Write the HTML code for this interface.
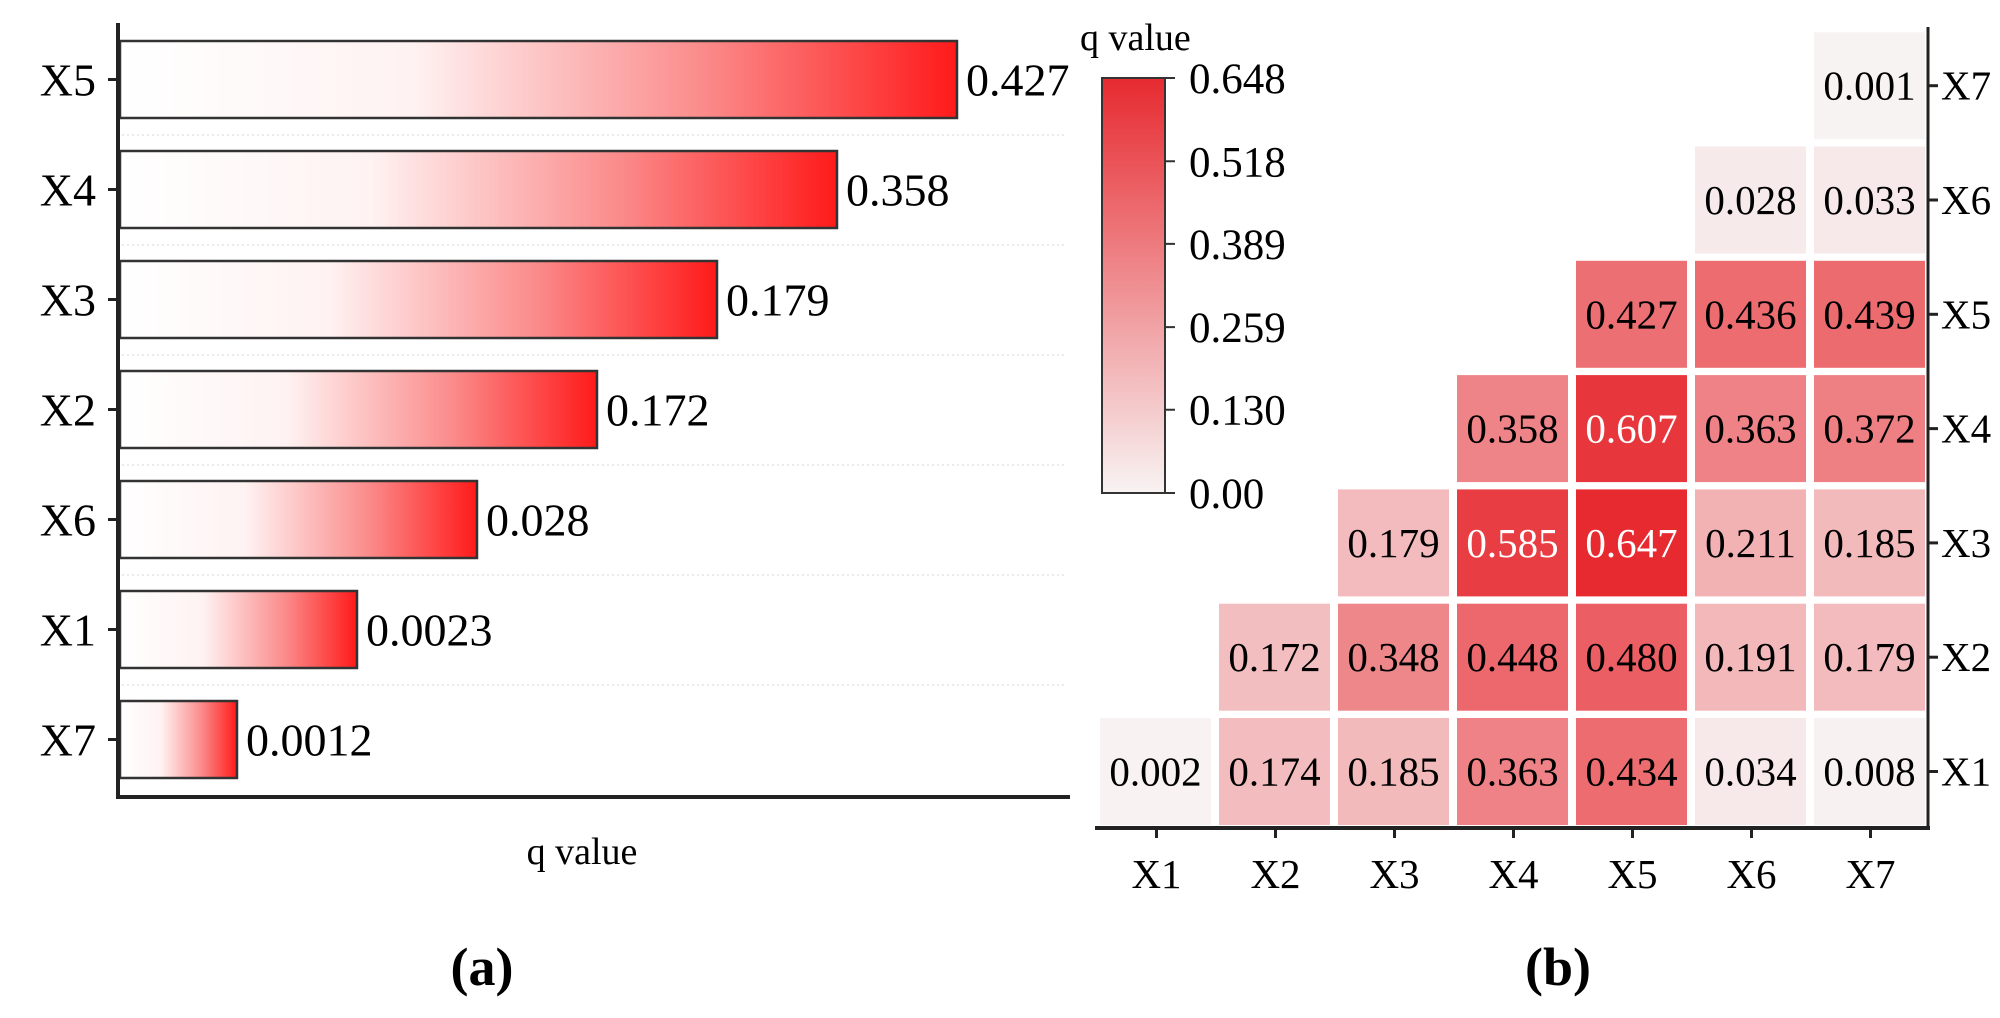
<!DOCTYPE html>
<html><head><meta charset="utf-8"><style>
html,body{margin:0;padding:0;background:#fff;}
svg{display:block;font-family:"Liberation Serif",serif;}
</style></head><body>
<svg id="chart" width="2000" height="1018" viewBox="0 0 2000 1018" xmlns="http://www.w3.org/2000/svg">
<defs>
<linearGradient id="barGrad" x1="0" x2="1" y1="0" y2="0">
<stop offset="0" stop-color="#ffffff"/><stop offset="0.35" stop-color="#fff2f2"/><stop offset="0.7" stop-color="#fb8a8a"/><stop offset="1" stop-color="#ff1a1a"/>
</linearGradient>
<linearGradient id="cbGrad" x1="0" x2="0" y1="1" y2="0">
<stop offset="0" stop-color="#f8f3f3"/><stop offset="1" stop-color="#e62a30"/>
</linearGradient>
</defs>
<g id="panelA"></g>
<g id="panelB"></g>
<text x="482" y="985" text-anchor="middle" font-size="54" font-weight="bold">(a)</text>
<text x="1558" y="985" text-anchor="middle" font-size="54" font-weight="bold">(b)</text>
</svg>
<script>
const barCategories = ["X5","X4","X3","X2","X6","X1","X7"];
const barValues = [0.427,0.358,0.179,0.172,0.028,0.0023,0.0012];
const barLabels = ["0.427","0.358","0.179","0.172","0.028","0.0023","0.0012"];

const heatCats = ["X1","X2","X3","X4","X5","X6","X7"];
const heatRowX1 = [0.002,0.174,0.185,0.363,0.434,0.034,0.008];
const heatRowX2 = [null,0.172,0.348,0.448,0.480,0.191,0.179];
const heatRowX3 = [null,null,0.179,0.585,0.647,0.211,0.185];
const heatRowX4 = [null,null,null,0.358,0.607,0.363,0.372];
const heatRowX5 = [null,null,null,null,0.427,0.436,0.439];
const heatRowX6 = [null,null,null,null,null,0.028,0.033];
const heatRowX7 = [null,null,null,null,null,null,0.001];
const colorbarTicks = ["0.00","0.130","0.259","0.389","0.518","0.648"];
const colorMax = 0.648;

const NS="http://www.w3.org/2000/svg";
function mk(tag,attrs,parent,text){const e=document.createElementNS(NS,tag);for(const k in attrs)e.setAttribute(k,attrs[k]);if(text!==undefined)e.textContent=text;parent.appendChild(e);return e;}

const A=document.getElementById('panelA');
const axX=118, axTop=23, axBot=797, axRight=1070;
const rowTop=41, rowPitch=110, barH=77;
const yPos=i=>rowTop+i*rowPitch;
const sorted=[...barValues].sort((a,b)=>a-b);
const xLen=v=>117+sorted.indexOf(v)*120;
barCategories.forEach((c,i)=>{
  const y=yPos(i), w=xLen(barValues[i]);
  if(i>0){const l=mk('line',{x1:122,x2:1065,y1:y-16,y2:y-16,stroke:'#ddd','stroke-width':1.2,'stroke-dasharray':'2,3'},A);
    
    }
  const r=mk('rect',{x:120,y:y,width:w,height:barH,fill:'url(#barGrad)',stroke:'#333','stroke-width':2.5},A);
  
  
  const t=mk('text',{x:120+w+9,y:y+barH/2+16,'font-size':46},A,barLabels[i]);
  
  
  const tk=mk('line',{x1:axX-10,x2:axX,y1:y+barH/2,y2:y+barH/2,stroke:'#222','stroke-width':3},A);
  
  
  const yl=mk('text',{x:axX-22,y:y+barH/2+16,'font-size':46,'text-anchor':'end'},A,c);
  
  
});
let e=mk('line',{x1:axX,x2:axX,y1:axTop,y2:axBot+2,stroke:'#222','stroke-width':4},A);


e=mk('line',{x1:axX-2,x2:axRight,y1:axBot,y2:axBot,stroke:'#222','stroke-width':4},A);


e=mk('text',{x:582,y:864,'font-size':38,'text-anchor':'middle'},A,'q value');



const B=document.getElementById('panelB');
const rows=[heatRowX1,heatRowX2,heatRowX3,heatRowX4,heatRowX5,heatRowX6,heatRowX7];
const cellX0=1100, pitchX=119, cellW=111, bottomY=825, pitchY=114.3, cellH=107;
const colX=j=>cellX0+j*pitchX;
const rowY=i=>bottomY-(i+1)*pitchY+(pitchY-cellH);
function color(v){const t=Math.max(0,Math.min(1,v/colorMax));
  const r=Math.round(248+(230-248)*t),g=Math.round(243+(42-243)*t),b=Math.round(243+(48-243)*t);
  return `rgb(${r},${g},${b})`;}
rows.forEach((row,i)=>{
  row.forEach((v,j)=>{
    if(v===null)return;
    const x=colX(j), y=rowY(i);
    const r=mk('rect',{x:x,y:y,width:cellW,height:cellH,fill:color(v)},B);
    
    
    const t=mk('text',{x:x+cellW/2,y:y+cellH/2+14,'font-size':41,'text-anchor':'middle',fill:v>0.55?'#fff':'#000'},B,v.toFixed(3));
    
    
  });
  const cy=rowY(i)+cellH/2;
  const tk=mk('line',{x1:1928,x2:1938,y1:cy,y2:cy,stroke:'#222','stroke-width':3},B);
  
  
  const yl=mk('text',{x:1941,y:cy+14,'font-size':41},B,heatCats[i]);
  
  
});
heatCats.forEach((c,j)=>{
  const cx=colX(j)+cellW/2+1;
  const tk=mk('line',{x1:cx,x2:cx,y1:828,y2:838,stroke:'#222','stroke-width':3},B);
  
  
  const xl=mk('text',{x:cx,y:888,'font-size':41,'text-anchor':'middle'},B,c);
  
  
});
e=mk('line',{x1:1928,x2:1928,y1:27,y2:830,stroke:'#222','stroke-width':3},B);


e=mk('line',{x1:1095,x2:1930,y1:828,y2:828,stroke:'#222','stroke-width':4},B);


const cbX=1102, cbW=63, cbTop=78, cbBot=493;
e=mk('rect',{x:cbX,y:cbTop,width:cbW,height:cbBot-cbTop,fill:'url(#cbGrad)',stroke:'#333','stroke-width':2},B);


colorbarTicks.forEach((lab,k)=>{
  const v=parseFloat(lab);
  const y=cbBot-(v/colorMax)*(cbBot-cbTop);
  const tk=mk('line',{x1:cbX+cbW,x2:cbX+cbW+10,y1:y,y2:y,stroke:'#333','stroke-width':2},B);
  
  
  const t=mk('text',{x:1189,y:y+15,'font-size':43},B,lab);
  
  
});
e=mk('text',{x:1080,y:50,'font-size':38},B,'q value');


</script>
</body></html>
